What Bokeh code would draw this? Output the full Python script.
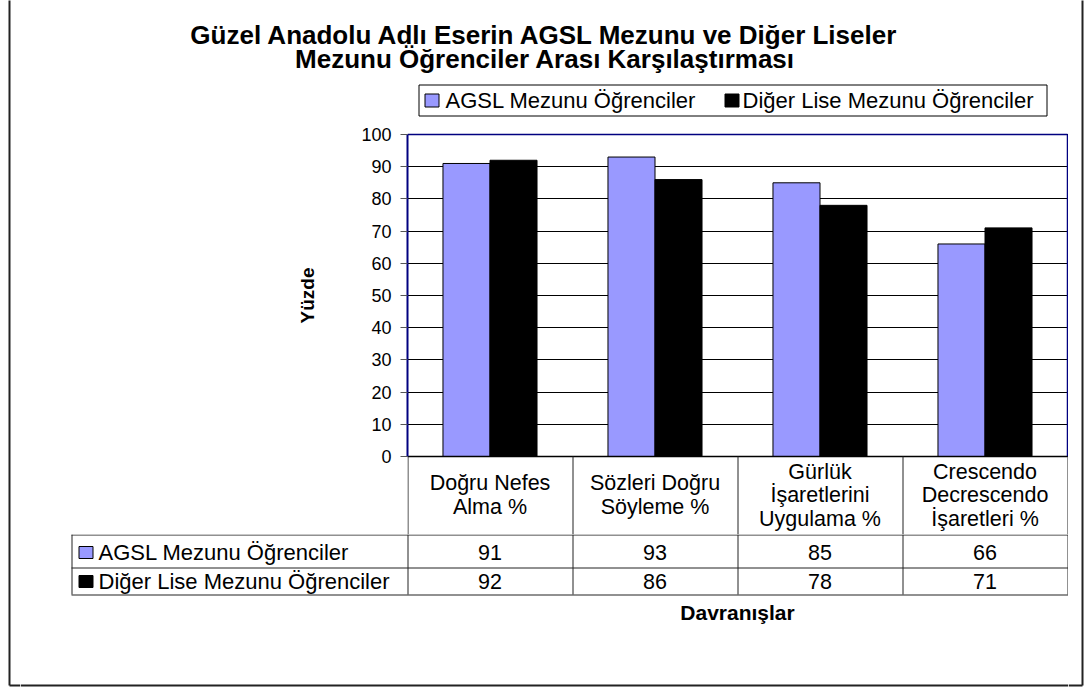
import math
from bokeh.plotting import figure
from bokeh.models import Range1d, FixedTicker, ColumnDataSource
from bokeh.layouts import row, column
from bokeh.core.properties import value
from bokeh.transform import dodge
from bokeh.embed import file_html
from bokeh.resources import INLINE

# ---------------- data ----------------
categories = ["Doğru Nefes\nAlma %", "Sözleri Doğru\nSöyleme %",
              "Gürlük\nİşaretlerini\nUygulama %", "Crescendo\nDecrescendo\nİşaretleri %"]
series_names = ["AGSL Mezunu Öğrenciler", "Diğer Lise Mezunu Öğrenciler"]
agsl = [91, 93, 85, 66]
diger = [92, 86, 78, 71]
y_ticks = [0, 10, 20, 30, 40, 50, 60, 70, 80, 90, 100]
title_lines = ["Güzel Anadolu Adlı Eserin AGSL Mezunu ve Diğer Liseler",
               "Mezunu Öğrenciler Arası Karşılaştırması"]
y_title = "Yüzde"
x_title = "Davranışlar"
series_colors = ["#9999FF", "#000000"]

FONT = "Liberation Sans"
BORDER = "#222222"
GRIDC = "#222222"

# ---------------- layout geometry (page pixels) ----------------
TOTAL_W, TOTAL_H = 1087, 689
LEFT_W, RIGHT_W = 20, 19
MID_W = TOTAL_W - LEFT_W - RIGHT_W          # 1048
TOP_H = 120
HDR_B = 534                                 # bottom of the table header row
MID_H = HDR_B - TOP_H                       # bar figure (incl. header row)
BOT_H = TOTAL_H - HDR_B
PLOT_L, PLOT_T, PLOT_B = 407, 134, 456      # plot area in page pixels
CAT_PX = 165                                # width of one category slot
FRAME_T = 132                               # top of bar figure frame
FRAME_R = LEFT_W + MID_W                    # 1068
YLAB_R = 320                                # right edge of the y-title strip


def blank(w, h, x0, x1, y_top, y_bot, top_border=0):
    f = figure(width=w, height=h, x_range=Range1d(x0, x1), y_range=Range1d(y_bot, y_top),
               output_backend="svg", toolbar_location=None, title=None,
               x_axis_type=None, y_axis_type=None, min_border=0, min_border_top=top_border)
    f.outline_line_color = None
    f.background_fill_color = "white"
    f.border_fill_color = "white"
    return f


def txt(f, xs, ys, texts, size, bold=False, align="center", **kw):
    f.text(x=xs, y=ys, text=texts, text_font=value(FONT), text_font_size=value(size),
           text_font_style="bold" if bold else "normal", text_align=align,
           text_baseline="middle", text_color="black", **kw)


# ---------------- top: title + legend ----------------
ft = blank(MID_W, TOP_H, LEFT_W, LEFT_W + MID_W, 0, TOP_H)
txt(ft, [544.5, 544.5], [34, 58], title_lines, "26px", bold=True)
ft.quad(left=[418.5], right=[1046.5], top=[84.5], bottom=[115.5],
        fill_color="white", line_color="black", line_width=1)
leg_sq_x = [424.5, 724.5]
ft.quad(left=leg_sq_x, right=[x + 14 for x in leg_sq_x], top=[93.5, 93.5], bottom=[106.5, 106.5],
        fill_color=series_colors, line_color="black", line_width=1)
txt(ft, [445, 742], [100, 100], series_names, "22px", align="left")

# ---------------- y title strip ----------------
fy = blank(YLAB_R - LEFT_W, MID_H, LEFT_W, YLAB_R, FRAME_T, HDR_B, top_border=FRAME_T - TOP_H)
txt(fy, [307], [(PLOT_T + PLOT_B) / 2], [y_title], "19px", bold=True, angle=math.pi / 2)

# ---------------- middle: bar chart (+ category header row of the table) ----------------
px_per_unit_y = (PLOT_B - PLOT_T) / 100.0
y_top = 100 + (PLOT_T - FRAME_T) / px_per_unit_y
y_bot = -(HDR_B - PLOT_B) / px_per_unit_y
x_end = (FRAME_R - PLOT_L) / CAT_PX

fm = figure(width=FRAME_R - YLAB_R, height=MID_H, x_range=Range1d(0, x_end), y_range=Range1d(y_bot, y_top),
            output_backend="svg", toolbar_location=None, title=None,
            min_border_left=PLOT_L - YLAB_R, min_border_right=0,
            min_border_top=FRAME_T - TOP_H, min_border_bottom=0)
fm.outline_line_color = None
fm.background_fill_color = "white"
fm.border_fill_color = "white"
fm.xaxis.visible = False
fm.xgrid.visible = False
# page-pixel helper ranges for the header row drawn inside this frame
fm.extra_x_ranges = {"px": Range1d(PLOT_L, FRAME_R)}
fm.extra_y_ranges = {"px": Range1d(HDR_B, FRAME_T)}

ya = fm.yaxis[0]
ya.bounds = (0, 100)
ya.ticker = FixedTicker(ticks=y_ticks)
ya.axis_line_color = "#000080"
ya.axis_line_width = 2
ya.major_tick_out = 7
ya.major_tick_in = 0
ya.minor_tick_out = 0
ya.minor_tick_in = 0
ya.major_tick_line_color = "#555555"
ya.major_label_standoff = 9
ya.major_label_text_font = FONT
ya.major_label_text_font_size = "18px"
ya.major_label_text_color = "black"
fm.ygrid.ticker = FixedTicker(ticks=y_ticks)
fm.ygrid.grid_line_color = "black"
fm.ygrid.grid_line_width = 1

n_cat = len(categories)
src = ColumnDataSource(dict(cat=categories, xc=[i + 0.5 for i in range(n_cat)],
                            agsl=agsl, diger=diger))
bw = 0.285
fm.vbar(x=dodge("xc", -bw / 2), top="agsl", width=bw, source=src,
        fill_color=series_colors[0], line_color="black", line_width=1)
fm.vbar(x=dodge("xc", bw / 2), top="diger", width=bw, source=src,
        fill_color=series_colors[1], line_color="black", line_width=1)

# plot-area border (top + right) and the table's top edge
fm.segment(x0=[0], y0=[100], x1=[n_cat], y1=[100], line_color="#000080", line_width=1.5)
fm.segment(x0=[n_cat], y0=[100], x1=[n_cat], y1=[0], line_color="#000080", line_width=1.5)
fm.segment(x0=[0], y0=[0], x1=[n_cat], y1=[0], line_color="black", line_width=1.5)

col_edges = [PLOT_L + CAT_PX * i for i in range(n_cat + 1)]
fm.segment(x0=[x + 0.5 for x in col_edges], y0=[PLOT_B] * len(col_edges),
           x1=[x + 0.5 for x in col_edges], y1=[HDR_B] * len(col_edges),
           line_color=GRIDC, line_width=1, x_range_name="px", y_range_name="px")

# header (category) texts, vertically centred in the header cell
hdr_center, hdr_step = 494.5, 23.5
hx, hy, ht = [], [], []
for i, cat in enumerate(categories):
    cx = (col_edges[i] + col_edges[i + 1]) / 2
    parts = cat.split("\n")
    for k, t in enumerate(parts):
        hx.append(cx)
        hy.append(hdr_center + (k - (len(parts) - 1) / 2) * hdr_step)
        ht.append(t)
txt(fm, hx, hy, ht, "21.5px", x_range_name="px", y_range_name="px")

# ---------------- bottom: data rows + x title ----------------
fb = blank(MID_W, BOT_H, LEFT_W, LEFT_W + MID_W, HDR_B, TOTAL_H)
row_edges = [HDR_B, 567, 594]
table_left = 71
fb.segment(x0=[x + 0.5 for x in col_edges], y0=[HDR_B] * len(col_edges),
           x1=[x + 0.5 for x in col_edges], y1=[row_edges[-1]] * len(col_edges),
           line_color=GRIDC, line_width=1)
fb.segment(x0=[table_left + 0.5], y0=[row_edges[0]], x1=[table_left + 0.5], y1=[row_edges[-1]],
           line_color=GRIDC, line_width=1)
fb.segment(x0=[table_left] * 3, y0=[y + 0.5 for y in row_edges],
           x1=[col_edges[-1] + 1] * 3, y1=[y + 0.5 for y in row_edges],
           line_color=GRIDC, line_width=1)

row_y = [552, 581]
fb.quad(left=[78.5, 78.5], right=[92.5, 92.5], top=[y - 6 for y in row_y], bottom=[y + 6 for y in row_y],
        fill_color=series_colors, line_color="black", line_width=1)
txt(fb, [98, 98], row_y, series_names, "22px", align="left")
vx, vy, vt = [], [], []
for j, vals in enumerate([agsl, diger]):
    for i, v in enumerate(vals):
        vx.append((col_edges[i] + col_edges[i + 1]) / 2)
        vy.append(row_y[j])
        vt.append(str(v))
txt(fb, vx, vy, vt, "21.5px")

txt(fb, [(col_edges[0] + col_edges[-1]) / 2], [612], [x_title], "21px", bold=True)

# outer chart border (bottom part)
fb.segment(x0=[LEFT_W], y0=[685], x1=[LEFT_W + MID_W], y1=[685], line_color=BORDER, line_width=2)

# ---------------- side strips for the outer border ----------------
fl = blank(LEFT_W, TOTAL_H, 0, LEFT_W, 0, TOTAL_H)
fl.segment(x0=[9, 9], y0=[-5, 685], x1=[9, LEFT_W], y1=[685, 685], line_color=BORDER, line_width=2)
fr = blank(RIGHT_W, TOTAL_H, FRAME_R, TOTAL_W, 0, TOTAL_H)
fr.segment(x0=[1082, FRAME_R], y0=[-5, 685], x1=[1082, 1082], y1=[685, 685], line_color=BORDER, line_width=2)

# the middle row is nested so its frames are not aligned with the strips above/below
layout = row(fl, column(ft, row(fy, fm), fb), fr)
open("out.html", "w").write(file_html(layout, INLINE))
